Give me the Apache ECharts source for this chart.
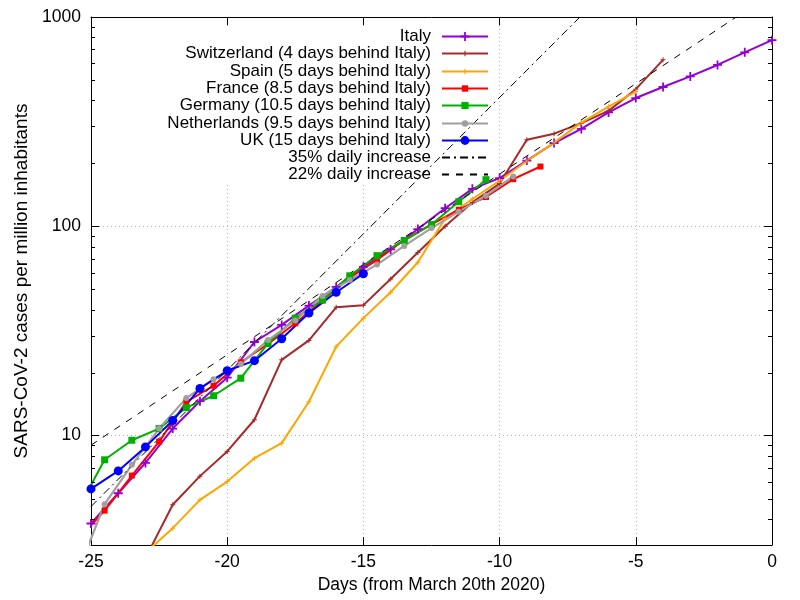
<!DOCTYPE html>
<html><head><meta charset="utf-8">
<script src="https://cdn.jsdelivr.net/npm/echarts@6.0.0/dist/echarts.min.js"></script>
<style>html,body{margin:0;padding:0;background:#fff}#c{width:800px;height:600px}</style>
</head><body><div id="c"></div>
<script>
// ---- data ----
const italyX = [-25,-24,-23,-22,-21,-20,-19,-18,-17,-16,-15,-14,-13,-12,-11,-10,-9,-8,-7,-6,-5,-4,-3,-2,-1,0];
const italyY = [3.8,5.3,7.4,10.8,14.6,18.9,28.0,33.8,41.8,51.3,64,77.5,97,122,151,170,206,250,292,350,410,463,520,590,678,775];

const switzerlandX = [-23,-22,-21,-20,-19,-18,-17,-16,-15,-14,-13,-12,-11,-10,-9,-8,-7,-6,-5,-4];
const switzerlandY = [2.6,4.67,6.4,8.4,11.9,23,28.5,41,42,56,75,100,130,160,259,277,311,356,452,624];

const spainX = [-23,-22,-21,-20,-19,-18,-17,-16,-15,-14,-13,-12,-11,-10,-9,-8,-7,-6,-5];
const spainY = [2.75,3.61,4.93,6.03,7.8,9.2,14.5,26.6,36.4,48.4,67.3,109,135,165,205,251,313,373,440];

const franceX = [-25.5,-24.5,-23.5,-22.5,-21.5,-20.5,-19.5,-18.5,-17.5,-16.5,-15.5,-14.5,-13.5,-12.5,-11.5,-10.5,-9.5,-8.5];
const franceY = [3.16,4.38,6.44,9.36,14.5,17.3,22.4,27.4,34.4,44.2,56.9,69,86,102,120,138,168,193];

const germanyX = [-25.5,-24.5,-23.5,-22.5,-21.5,-20.5,-19.5,-18.5,-17.5,-16.5,-15.5,-14.5,-13.5,-12.5,-11.5,-10.5];
const germanyY = [4.4,7.66,9.5,10.8,13.6,15.5,18.8,27.6,36.4,44.5,58,72.4,85.5,102,131,167];

const netherlandsX = [-25.5,-24.5,-23.5,-22.5,-21.5,-20.5,-19.5,-18.5,-17.5,-16.5,-15.5,-14.5,-13.5,-12.5,-11.5,-10.5,-9.5];
const netherlandsY = [2.2,4.7,7.25,10.8,15.1,18.6,22,28.6,35.5,46.5,55.4,65.6,80.6,98,117.5,140,173];

const ukX = [-25,-24,-23,-22,-21,-20,-19,-18,-17,-16,-15];
const ukY = [5.56,6.78,8.83,11.8,16.8,20.4,22.8,29,38.5,48.4,59.3];

const growth35X = [-25, -7.05];
const growth35Y = [4.58, 1000];
const growth22X = [-25, -1.31];
const growth22Y = [9.0, 1000];

const seriesNames = [
  'Italy',
  'Switzerland (4 days behind Italy)',
  'Spain (5 days behind Italy)',
  'France (8.5 days behind Italy)',
  'Germany (10.5 days behind Italy)',
  'Netherlands (9.5 days behind Italy)',
  'UK (15 days behind Italy)',
  '35% daily increase',
  '22% daily increase'
];
const xTicks = [-25,-20,-15,-10,-5,0];
const yLabelValues = [10,100,1000];
const yMinorTicks = [4,5,6,7,8,9,20,30,40,50,60,70,80,90,200,300,400,500,600,700,800,900];

// ---- styling ----
const FONT = 'Liberation Sans, Arial, Helvetica, sans-serif';
const PLUS = 'path://M4,0H6V4H10V6H6V10H4V6H0V4H4Z';
const pairs = (xs, ys) => xs.map((x, i) => [x, ys[i]]);

const styles = [
  {color:'#9400d3', symbol:PLUS, size:9, lw:2, legendH:11},
  {color:'#a52a2a', symbol:PLUS, size:5, lw:2, legendH:7},
  {color:'#ffa500', symbol:PLUS, size:5, lw:2, legendH:7},
  {color:'#ff0000', symbol:'rect', size:6, lw:2, legendH:8},
  {color:'#00b000', symbol:'rect', size:7, lw:2, legendH:9},
  {color:'#a0a0a0', symbol:'circle', size:6, lw:2.2, legendH:8},
  {color:'#0000ff', symbol:'circle', size:9, lw:2, legendH:11},
  {color:'#000000', symbol:'none', size:0, lw:1, dash:[8,4,2,4], legendH:8},
  {color:'#000000', symbol:'none', size:0, lw:1, dash:[7,7], legendH:8}
];
const dataSets = [
  pairs(italyX, italyY), pairs(switzerlandX, switzerlandY), pairs(spainX, spainY),
  pairs(franceX, franceY), pairs(germanyX, germanyY), pairs(netherlandsX, netherlandsY),
  pairs(ukX, ukY), pairs(growth35X, growth35Y), pairs(growth22X, growth22Y)
];

const lineSeries = seriesNames.map((name, i) => {
  const s = styles[i];
  return {
    name, type:'line', data:dataSets[i], xAxisIndex:0, yAxisIndex:0,
    symbol:s.symbol, symbolSize:s.size, showSymbol:s.symbol !== 'none', showAllSymbol:true,
    symbolKeepAspect:true, clip:true, animation:false, z:3,
    lineStyle:{color:s.color, width:s.lw, type:s.dash || 'solid'},
    itemStyle:{color:s.color},
    emphasis:{disabled:true}
  };
});

const minorTickSeries = {
  type:'custom', name:'minorTicks', silent:true, z:5, animation:false,
  data:yMinorTicks.map(v => [-25, v]), encode:{x:0, y:1},
  renderItem(params, api) {
    const p = api.coord([api.value(0), api.value(1)]);
    const cs = params.coordSys;
    const y = Math.round(p[1]) + 0.5;
    return {type:'group', children:[
      {type:'line', shape:{x1:cs.x, y1:y, x2:cs.x + 4, y2:y}, style:{stroke:'#000', lineWidth:1}},
      {type:'line', shape:{x1:cs.x + cs.width, y1:y, x2:cs.x + cs.width - 4, y2:y}, style:{stroke:'#000', lineWidth:1}}
    ]};
  }
};

const legends = seriesNames.map((name, i) => {
  const lg = {
    data:[name], orient:'horizontal', align:'right', right:311,
    top: Math.round(36.5 + i * 17.3 - 8.5),
    itemWidth:46, itemHeight:styles[i].legendH, itemGap:0, padding:0,
    selectedMode:false, z:4,
    textStyle:{fontFamily:FONT, fontSize:17, color:'#000', lineHeight:17, padding:[0,6,0,0]}
  };
  if (styles[i].symbol === 'none') lg.itemStyle = {opacity:0};
  return lg;
});

const axisLabelY = {
  fontFamily:FONT, fontSize:17.5, color:'#000', margin:10,
  formatter: v => {
    const l = Math.log10(v);
    return (Math.abs(l - Math.round(l)) < 1e-6 && yLabelValues.indexOf(Math.round(v)) >= 0) ? String(Math.round(v)) : '';
  }
};

const chart = echarts.init(document.getElementById('c'), null, {renderer:'canvas'});
chart.setOption({
  animation:false,
  backgroundColor:'#fff',
  grid:{left:91, right:28, top:17, bottom:55, containLabel:false},
  graphic:[{type:'rect', left:160, top:28, shape:{width:334, height:156}, style:{fill:'#fff'}, z:1, silent:true}],
  legend: legends,
  xAxis:[
    {type:'value', position:'bottom', min:xTicks[0], max:xTicks[xTicks.length-1], interval:5,
     name:'Days (from March 20th 2020)', nameLocation:'middle', nameGap:28,
     nameTextStyle:{fontFamily:FONT, fontSize:17.5, color:'#000'},
     axisLine:{show:true, onZero:false, lineStyle:{color:'#000', width:1}},
     axisTick:{show:true, inside:true, length:8, lineStyle:{color:'#000'}},
     axisLabel:{fontFamily:FONT, fontSize:17.5, color:'#000', margin:8},
     splitLine:{show:true, showMinLine:false, showMaxLine:false, lineStyle:{color:'#b0b0b0', width:1, type:[1,3]}}},
    {type:'value', position:'top', min:xTicks[0], max:xTicks[xTicks.length-1], interval:5,
     axisLine:{show:true, onZero:false, lineStyle:{color:'#000', width:1}},
     axisTick:{show:true, inside:true, length:8, lineStyle:{color:'#000'}},
     axisLabel:{show:false}, splitLine:{show:false}}
  ],
  yAxis:[
    {type:'log', logBase:10, position:'left', min:3, max:1000,
     name:'SARS-CoV-2 cases per million inhabitants', nameLocation:'middle', nameGap:53, nameRotate:90,
     nameTextStyle:{fontFamily:FONT, fontSize:19, color:'#000'},
     axisLine:{show:true, onZero:false, lineStyle:{color:'#000', width:1}},
     axisTick:{show:true, inside:true, length:8, lineStyle:{color:'#000'}},
     axisLabel:axisLabelY,
     splitLine:{show:true, showMinLine:false, showMaxLine:false, lineStyle:{color:'#b0b0b0', width:1, type:[1,3]}}},
    {type:'log', logBase:10, position:'right', min:3, max:1000,
     axisLine:{show:true, onZero:false, lineStyle:{color:'#000', width:1}},
     axisTick:{show:true, inside:true, length:8, lineStyle:{color:'#000'}},
     axisLabel:{show:false}, splitLine:{show:false}}
  ],
  series: lineSeries.concat([minorTickSeries])
});
</script>
</body></html>
